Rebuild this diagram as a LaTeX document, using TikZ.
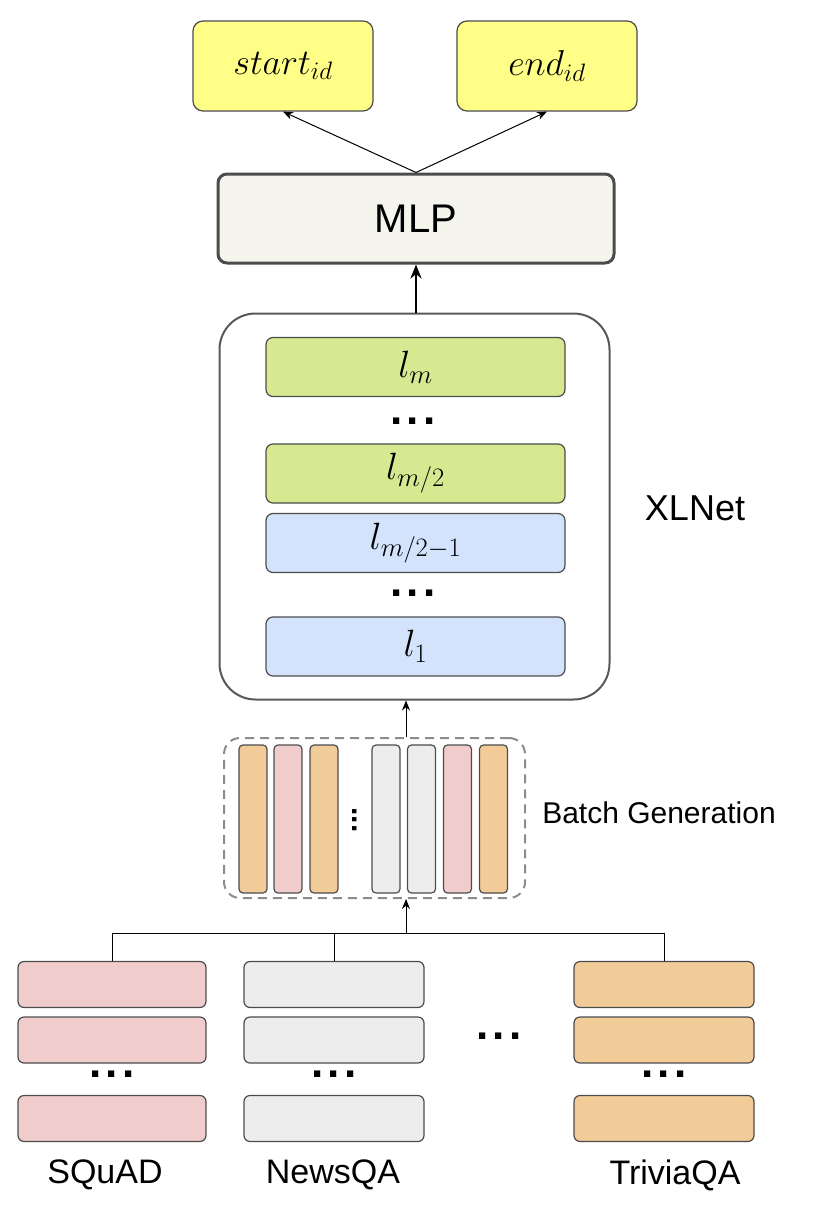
\RequirePackage{fix-cm}
\documentclass[tikz,border=0pt]{standalone}
\usepackage{fontspec}
\setmainfont{Liberation Sans}
\usetikzlibrary{arrows.meta}

\newcommand\fsz[1]{\fontsize{#1}{#1}\selectfont}

\begin{document}
\begin{tikzpicture}[x=1pt,y=-1pt,
  box/.style={draw=black!70, line width=1.2pt, rounded corners=7pt, inner sep=0pt},
  layer/.style={box, minimum width=299pt, minimum height=59pt, font=\fsz{38}},
  bar/.style={box, rounded corners=4pt, minimum width=28pt, minimum height=148pt},
  dset/.style={box, rounded corners=6pt, minimum height=46pt},
  dots/.style={inner sep=0pt, font=\fsz{44}\bfseries},
  arr/.style={-{Stealth[length=10pt,width=8pt]}, line width=1pt},
]
\definecolor{cY}{RGB}{255,255,136}
\definecolor{cW}{RGB}{245,245,238}
\definecolor{cGn}{RGB}{214,233,145}
\definecolor{cBl}{RGB}{212,227,252}
\definecolor{or}{RGB}{241,204,153}
\definecolor{pk}{RGB}{241,204,204}
\definecolor{gy}{RGB}{237,237,237}

\useasboundingbox (0,0) rectangle (816,1220);

% outputs and head
\node[box, fill=cY, minimum width=180pt, minimum height=90pt, rounded corners=10pt,
      font=\fsz{36}] (start) at (283,66) {$start_{id}$};
\node[box, fill=cY, minimum width=180pt, minimum height=90pt, rounded corners=10pt,
      font=\fsz{36}] (end) at (547,66) {$end_{id}$};
\node[box, fill=cW, line width=3pt, minimum width=396pt, minimum height=89pt,
      rounded corners=9pt, font=\fsz{40}] (mlp) at (416,218.5) {MLP};
\draw[arr] (mlp.north) -- (start.south);
\draw[arr] (mlp.north) -- (end.south);

% encoder
\node[box, draw=black!65, line width=2pt, rounded corners=36pt,
      minimum width=390pt, minimum height=386pt] (xl) at (414.5,506.5) {};
\node[layer, fill=cGn] (lm) at (415.5,367) {$l_m$};
\node[dots] (d1) at (413,421) {.\kern4pt.\kern4pt.};
\node[layer, fill=cGn] (lmh) at (415.5,473.5) {$l_{m/2}$};
\node[layer, fill=cBl] (lmh1) at (415.5,543) {$l_{m/2-1}$};
\node[dots] (d2) at (413,593) {.\kern4pt.\kern4pt.};
\node[layer, fill=cBl] (l1) at (415.5,646.5) {$l_1$};
\node[font=\fsz{36}] (xlname) at (695,508) {XLNet};
\draw[-{Stealth[length=14pt,width=11pt]}, line width=2.5pt] (mlp.south |- xl.north) -- (mlp.south);

% batch
\node[draw=black!45, line width=2pt, dash pattern=on 9pt off 6pt, rounded corners=16pt,
      minimum width=301pt, minimum height=160pt] (batch) at (374.5,818) {};
\foreach \i/\bx/\col in {1/253/or, 2/288/pk, 3/324/or, 4/386/gy, 5/421.5/gy, 6/457.5/pk, 7/493.5/or}{
  \node[bar, fill=\col] (b\i) at (\bx,819) {};
}
\node[dots, font=\fsz{30}\bfseries, rotate=-90] (d3) at (355,820) {...};
\node[font=\fsz{30}] (bname) at (659,813) {Batch Generation};

% datasets
\foreach \nm/\cx/\w/\col/\lab/\lx in {sq/112/188/pk/SQuAD/105, nw/334/180/gy/NewsQA/333, tv/664/180/or/TriviaQA/675}{
  \node[dset, fill=\col, minimum width=\w pt] (\nm1) at (\cx,984.5) {};
  \node[dset, fill=\col, minimum width=\w pt] (\nm2) at (\cx,1040) {};
  \node[dots] (\nm d) at (\cx,1074) {.\kern4pt.\kern4pt.};
  \node[dset, fill=\col, minimum width=\w pt] (\nm3) at (\cx,1118.5) {};
  \node[font=\fsz{34}] (\nm lab) at (\lx,1175) {\lab};
}
\node[dots] (d4) at (499,1036) {.\kern4pt.\kern4pt.};

\coordinate (tap) at (406,933);
\draw[line width=1pt] (sq1.north) |- (tv1.north |- tap) -- (tv1.north);
\draw[line width=1pt] (nw1.north) -- (nw1.north |- tap);
\draw[arr] (tap) -- (tap |- batch.south);
\draw[arr] (tap |- batch.north) -- (tap |- xl.south);
\end{tikzpicture}
\end{document}
